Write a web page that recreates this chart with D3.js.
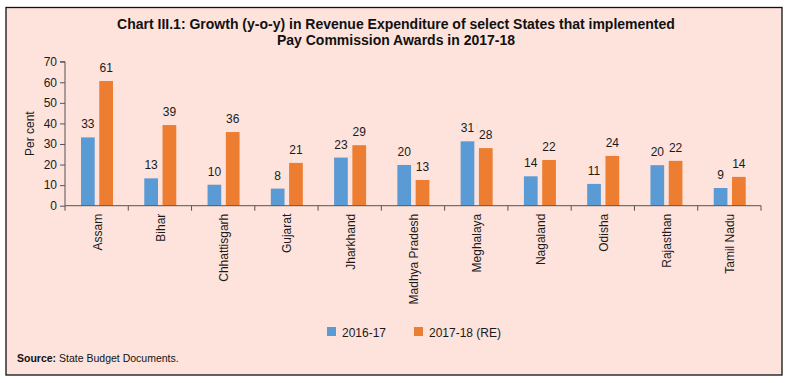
<!DOCTYPE html>
<html>
<head>
<meta charset="utf-8">
<script src="https://cdn.jsdelivr.net/npm/d3@7"></script>
<style>
  html, body { margin: 0; padding: 0; background: #ffffff; }
  svg { display: block; }
</style>
</head>
<body>
<svg id="chart" width="789" height="383"></svg>
<script>
const categories = ["Assam", "Bihar", "Chhattisgarh", "Gujarat", "Jharkhand", "Madhya Pradesh", "Meghalaya", "Nagaland", "Odisha", "Rajasthan", "Tamil Nadu"];
const seriesNames = ["2016-17", "2017-18 (RE)"];
const values2016 = [33.2, 13.3, 10.2, 8.3, 23.4, 19.8, 31.3, 14.3, 10.6, 19.7, 8.6];
const values2017 = [60.6, 39.2, 35.8, 20.8, 29.4, 12.5, 28.0, 22.2, 24.2, 21.8, 14.0];
const labels2016 = ["33", "13", "10", "8", "23", "20", "31", "14", "11", "20", "9"];
const labels2017 = ["61", "39", "36", "21", "29", "13", "28", "22", "24", "22", "14"];
const yTicks = [0, 10, 20, 30, 40, 50, 60, 70];
const colors = ["#5b9bd5", "#ed7d31"];
const titleLines = ["Chart III.1: Growth (y-o-y) in Revenue Expenditure of select States that implemented", "Pay Commission Awards in 2017-18"];

const svg = d3.select("#chart");
const font = "'Liberation Sans', Arial, Helvetica, sans-serif";

// frame
svg.append("rect").attr("x", 6).attr("y", 7.5).attr("width", 776).attr("height", 367.5)
  .attr("fill", "#fde3db").attr("stroke", "#111").attr("stroke-width", 1.3);

// title
svg.selectAll("text.title").data(titleLines).enter().append("text")
  .attr("class", "title")
  .attr("x", 396).attr("y", (d, i) => 29 + i * 15.5)
  .attr("text-anchor", "middle")
  .attr("font-family", font).attr("font-weight", "bold").attr("font-size", 14)
  .attr("fill", "#111").text(d => d);

const x = d3.scaleBand().domain(categories).range([65, 761]).padding(0);
const x1 = d3.scaleBand().domain(seriesNames).range([16, 48]).paddingInner(0.25);
const y = d3.scaleLinear().domain([0, 70]).range([205.7, 61.7]);

const data = categories.map((c, i) => ({
  cat: c,
  vals: [
    { s: seriesNames[0], v: values2016[i], l: labels2016[i] },
    { s: seriesNames[1], v: values2017[i], l: labels2017[i] }
  ]
}));

const g = svg.append("g");
const groups = g.selectAll("g.cat").data(data).enter().append("g")
  .attr("transform", d => `translate(${x(d.cat)},0)`);

groups.selectAll("rect").data(d => d.vals).enter().append("rect")
  .attr("x", d => x1(d.s))
  .attr("width", x1.bandwidth())
  .attr("y", d => y(d.v))
  .attr("height", d => y(0) - y(d.v))
  .attr("fill", (d, i) => colors[i]);

groups.selectAll("text").data(d => d.vals).enter().append("text")
  .attr("x", d => x1(d.s) + x1.bandwidth() / 2)
  .attr("y", d => y(d.v) - 9)
  .attr("text-anchor", "middle")
  .attr("font-family", font).attr("font-size", 12)
  .attr("fill", "#1a1a1a")
  .text(d => d.l);

// y axis
const yAxis = svg.append("g").attr("transform", "translate(65,0)")
  .call(d3.axisLeft(y).tickValues(yTicks).tickSize(5).tickPadding(3).tickFormat(d3.format("d")));
yAxis.selectAll("text").attr("font-family", font).attr("font-size", 12).attr("fill", "#1a1a1a");
yAxis.selectAll("line, path").attr("stroke", "#555");
yAxis.select(".domain").attr("d", `M-5,${y(70)}H0V${y(0)}`);

// x axis
const xAxis = svg.append("g").attr("transform", `translate(0,${y(0)})`);
xAxis.append("line").attr("x1", 65).attr("x2", 761).attr("y1", 0).attr("y2", 0).attr("stroke", "#555");
const boundaries = categories.map(c => x(c)).concat([x(categories[categories.length - 1]) + x.bandwidth()]);
xAxis.selectAll("line.tick").data(boundaries).enter().append("line")
  .attr("class", "tick").attr("x1", d => d).attr("x2", d => d).attr("y1", 0).attr("y2", 5)
  .attr("stroke", "#555");
xAxis.selectAll("text").data(categories).enter().append("text")
  .attr("transform", d => `translate(${x(d) + x.bandwidth() / 2 + 5},8) rotate(-90)`)
  .attr("text-anchor", "end")
  .attr("font-family", font).attr("font-size", 12)
  .attr("fill", "#1a1a1a")
  .text(d => d);

// y label
svg.append("text")
  .attr("transform", `translate(34,${(y(0) + y(70)) / 2}) rotate(-90)`)
  .attr("text-anchor", "middle")
  .attr("font-family", font).attr("font-size", 12).attr("fill", "#1a1a1a")
  .text("Per cent");

// legend
const legendX = [327, 414];
const legend = svg.selectAll("g.leg").data(seriesNames).enter().append("g")
  .attr("transform", (d, i) => `translate(${legendX[i]},327)`);
legend.append("rect").attr("width", 9).attr("height", 9).attr("fill", (d, i) => colors[i]);
legend.append("text").attr("x", 15).attr("y", 9.5)
  .attr("font-family", font).attr("font-size", 12).attr("fill", "#1a1a1a")
  .text(d => d);

// source
const src = svg.append("text").attr("x", 17).attr("y", 362)
  .attr("font-family", font).attr("font-size", 10.5).attr("fill", "#111");
src.append("tspan").attr("font-weight", "bold").text("Source:");
src.append("tspan").text(" State Budget Documents.");
</script>
</body>
</html>
